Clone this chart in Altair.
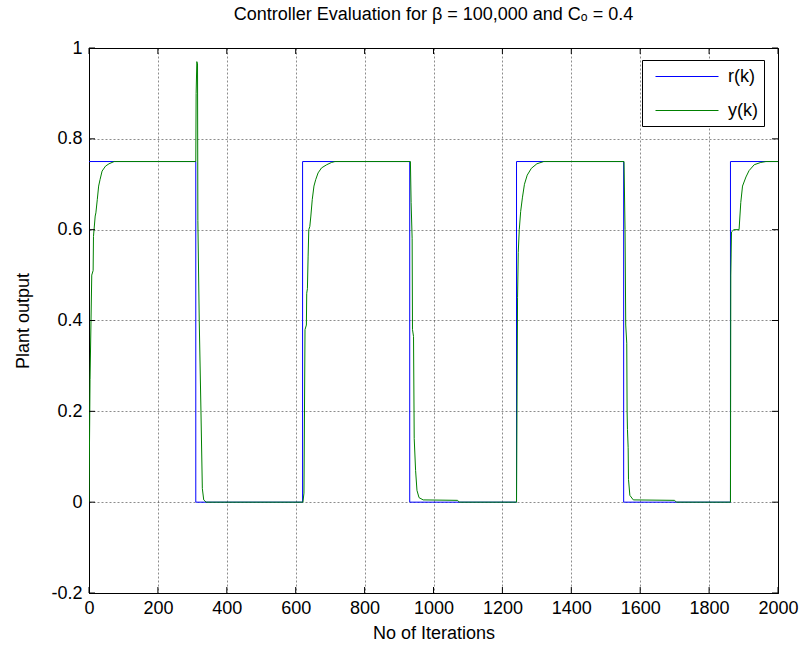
import altair as alt
import pandas as pd

# reference r(k): square wave
r_k = [0, 310, 310, 620, 620, 931, 931, 1241, 1241, 1552, 1552, 1862, 1862, 2000]
r_v = [0.75, 0.75, 0, 0, 0.75, 0.75, 0, 0, 0.75, 0.75, 0, 0, 0.75, 0.75]

# plant output y(k)
y_k = [0, 3, 8, 12, 13, 18, 20, 24, 28, 32, 38, 48, 58, 73, 310,
       311, 313, 315, 316, 320, 325, 329, 333, 340,
       621, 624, 627, 631, 632, 634, 636, 638, 641, 644, 648, 653, 658, 665, 675, 690, 704, 714, 933,
       935, 938, 939, 942, 944, 948, 952, 958, 970, 1070, 1075,
       1241, 1242, 1244, 1246, 1249, 1253, 1258, 1264, 1272, 1284, 1300, 1320, 1553,
       1556, 1558, 1561, 1562, 1563, 1565, 1566, 1570, 1580, 1700, 1705,
       1862, 1863, 1865, 1872, 1887, 1892, 1897, 1907, 1916, 1931, 1950, 1965, 2000]
y_v = [0, 0.27, 0.50, 0.51, 0.585, 0.63, 0.637, 0.666, 0.696, 0.71, 0.729, 0.74, 0.745, 0.75, 0.75,
       0.90, 0.97, 0.965, 0.62, 0.40, 0.20, 0.03, 0.005, 0,
       0, 0.02, 0.38, 0.39, 0.46, 0.47, 0.54, 0.60, 0.607, 0.63, 0.666, 0.696, 0.71, 0.725, 0.736, 0.743, 0.748, 0.75, 0.75,
       0.66, 0.58, 0.38, 0.365, 0.14, 0.07, 0.026, 0.01, 0.005, 0.004, 0,
       0, 0.15, 0.45, 0.55, 0.60, 0.64, 0.67, 0.70, 0.72, 0.735, 0.745, 0.75, 0.75,
       0.60, 0.39, 0.35, 0.20, 0.16, 0.12, 0.05, 0.015, 0.005, 0.004, 0,
       0, 0.5, 0.595, 0.6, 0.6, 0.66, 0.696, 0.716, 0.73, 0.743, 0.748, 0.75, 0.75]

series_names = ["r(k)", "y(k)"]
series_colors = ["#0000ff", "#008000"]
x_ticks = [0, 200, 400, 600, 800, 1000, 1200, 1400, 1600, 1800, 2000]
y_ticks = [-0.2, 0, 0.2, 0.4, 0.6, 0.8, 1.0]

df = pd.DataFrame({
    "k": r_k + y_k,
    "v": r_v + y_v,
    "s": [series_names[0]] * len(r_k) + [series_names[1]] * len(y_k),
    "o": list(range(len(r_k))) + list(range(len(y_k))),
})

W, H = 689, 545
FONT = "Liberation Sans"
FS = 18

xs = alt.Scale(domain=[0, 2000], nice=False, zero=False)
ys = alt.Scale(domain=[-0.2, 1.0], nice=False, zero=False)

ax_x = alt.Axis(values=x_ticks, title="No of Iterations", grid=True, ticks=False,
                labelPadding=6, titlePadding=7, labelFlush=False, format="d")
ax_y = alt.Axis(values=y_ticks, title="Plant output", grid=True, ticks=False,
                labelPadding=7, titlePadding=18, labelFlush=False,
                labelExpr="datum.value < 0 ? '-' + format(-datum.value, '.1~f') : format(datum.value, '.1~f')")

lines = alt.Chart(df).mark_line(strokeWidth=1, clip=True).encode(
    x=alt.X("k:Q", scale=xs, axis=ax_x),
    y=alt.Y("v:Q", scale=ys, axis=ax_y),
    color=alt.Color("s:N", scale=alt.Scale(domain=series_names, range=series_colors),
                    legend=alt.Legend(title=None, orient="none", legendX=553, legendY=12,
                                      symbolType="M-0.3,0H6", symbolSize=400, symbolStrokeWidth=1,
                                      fillColor="white", strokeColor="black", padding=6,
                                      labelFont=FONT, labelFontSize=FS, labelColor="black",
                                      rowPadding=14, labelOffset=59)),
    order="o:Q",
)

tx = pd.DataFrame({"k": x_ticks})
ty = pd.DataFrame({"v": y_ticks})
tick_b = alt.Chart(tx).mark_rule(color="black", strokeWidth=1).encode(
    x=alt.X("k:Q", scale=xs, axis=ax_x), y=alt.value(H), y2=alt.value(H - 6))
tick_t = alt.Chart(tx).mark_rule(color="black", strokeWidth=1).encode(
    x=alt.X("k:Q", scale=xs, axis=ax_x), y=alt.value(0), y2=alt.value(6))
tick_l = alt.Chart(ty).mark_rule(color="black", strokeWidth=1).encode(
    y=alt.Y("v:Q", scale=ys, axis=ax_y), x=alt.value(0), x2=alt.value(6))
tick_r = alt.Chart(ty).mark_rule(color="black", strokeWidth=1).encode(
    y=alt.Y("v:Q", scale=ys, axis=ax_y), x=alt.value(W), x2=alt.value(W - 6))

chart = alt.layer(lines, tick_b, tick_t, tick_l, tick_r).properties(
    width=W, height=H,
    autosize=alt.AutoSizeParams(type="none"),
    padding={"left": 89, "top": 48, "right": 26, "bottom": 58},
    background="white",
    title=alt.TitleParams(text="Controller Evaluation for β = 100,000 and Cₒ = 0.4",
                          font=FONT, fontSize=FS, fontWeight="normal", color="black",
                          anchor="middle", offset=15),
).configure_view(stroke="black", strokeWidth=1).configure_axis(
    domainColor="black", labelFont=FONT, labelFontSize=FS, labelColor="black",
    titleFont=FONT, titleFontSize=FS, titleFontWeight="normal", titleColor="black",
    gridColor="#000000", gridOpacity=0.45, gridDash=[2, 2], gridWidth=1,
)

chart.save("out.html", embed_options={"renderer": "svg", "actions": False})
